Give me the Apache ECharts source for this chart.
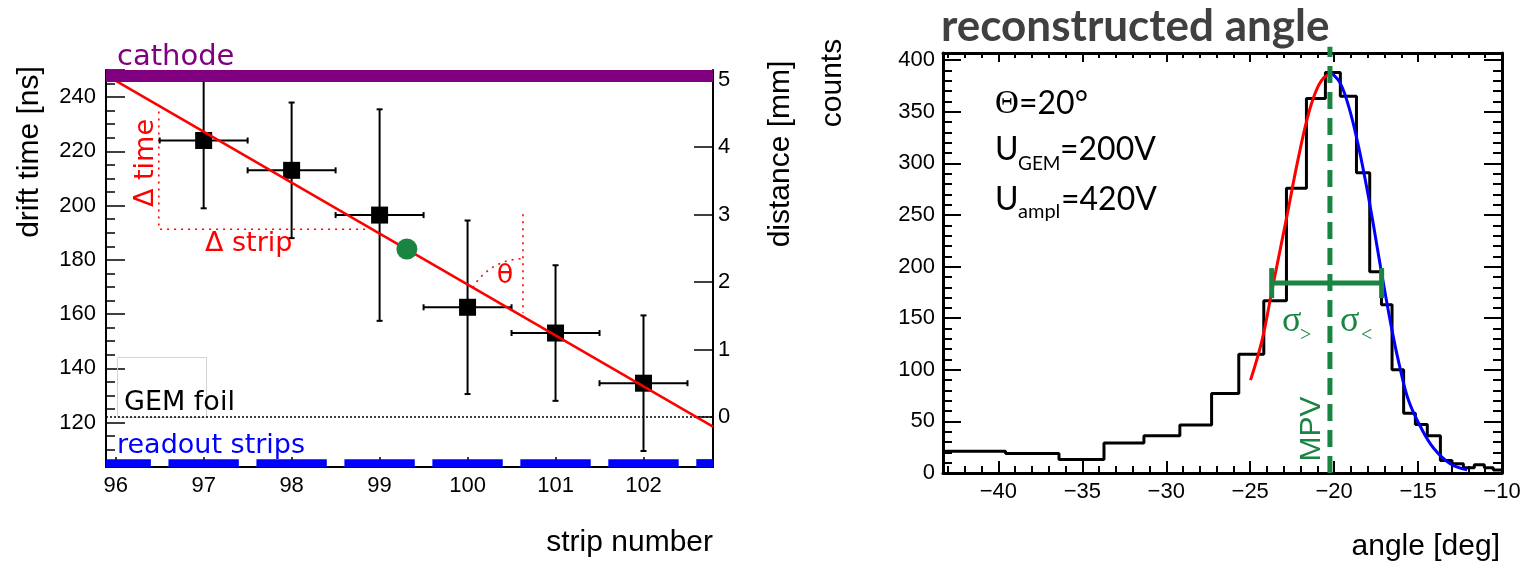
<!DOCTYPE html>
<html><head><meta charset="utf-8">
<script src="https://cdn.jsdelivr.net/npm/echarts@6/dist/echarts.min.js"></script>
<style>html,body{margin:0;padding:0;background:#fff}#c{width:1528px;height:565px}</style>
</head><body><div id="c"></div>
<script>
// ---------------- left panel: drift time vs strip ----------------
const strips = [97, 98, 99, 100, 101, 102];
const driftTime = [224, 213, 196.5, 162.5, 153, 134.5];
const driftTimeErr = [25, 25, 39, 32, 25, 25];
const stripErr = [0.5, 0.5, 0.5, 0.5, 0.5, 0.5];
const readoutStripCenters = [96, 97, 98, 99, 100, 101, 102, 103];
const readoutStripHalfWidth = 0.4;
const readoutStripTime = [103.6, 106.5];
const cathodeTime = [245.6, 250];
const gemFoilTime = 122;
const fitLineStrip = [95.89, 102.79];
const fitLineTime = [248.1, 118.5];
const midPointStrip = [99.31];
const midPointTime = [184];
const deltaStrip = [96.49, 96.49, 98.86];
const deltaTime = [234.7, 191.3, 191.3];
const thetaStrip = [100.63, 100.63];
const thetaTime = [196.8, 160.4];
const thetaArcCenter = [100.63, 159];
const stripRange = [95.89, 102.79];
const timeRange = [103.6, 250];
const distanceRange = [-0.74, 5.14];

// ---------------- right panel: reconstructed angle ----------------
const binEdges = [-43.3, -39.57, -36.39, -33.71, -31.33, -29.19, -27.30, -25.68, -24.19, -22.84,
  -21.65, -20.52, -19.63, -18.67, -17.88, -17.18, -16.55, -15.86, -15.16, -14.45, -13.67,
  -12.98, -12.30, -11.65, -11.05, -10.52, -10];
const binCounts = [21, 19, 13, 29, 36, 46.5, 77, 115, 167, 276, 363, 388, 365, 291, 195, 163,
  100, 58, 47, 36, 12, 9, 5, 8, 5, 3];
const leftFitAngle = [-24.98, -24.29, -23.69, -22.80, -22.20, -21.61, -21.11, -20.62, -20.12];
const leftFitCounts = [90, 129, 178, 250, 300, 343, 369, 383, 387];
const rightFitAngle = [-20.12, -19.63, -19.13, -18.63, -18.14, -17.64, -17.24, -16.55, -16.05,
  -15.56, -14.86, -14.07, -13.08, -12.08];
const rightFitCounts = [387, 377.5, 355, 322.6, 283.7, 238.7, 200, 138, 100, 70, 45, 24, 9, 3];
const mpvAngle = -20.25;
const mpvLineCounts = [0, 413];
const fwhmAngle = [-23.72, -17.17];
const fwhmCounts = 184;
const angleRange = [-43.3, -10];
const countRange = [0, 407];

// ---------------- chart ----------------
const LS = 'Liberation Sans', DJ = 'DejaVu Sans', LATO = 'Lato';
const GREEN = '#1a8442', RED = '#ff0000', BLUE = '#0000ff', PURPLE = '#800080';
const chart = echarts.init(document.getElementById('c'));

function txt(x, y, text, o) {
  o = o || {};
  return {type: 'text', x: x, y: y, rotation: o.rot || 0, z: 100,
    style: {text: text, fontSize: o.size || 30, fontFamily: o.font || LS,
      fontWeight: o.weight || 'normal', fill: o.color || '#000',
      align: o.align || 'left', verticalAlign: o.va || 'middle'}};
}
const minus = v => String(v).replace('-', '\u2212');

const lab = (extra) => Object.assign({fontSize: 22, fontFamily: LS, color: '#000',
  showMinLabel: false, showMaxLabel: false}, extra || {});

const option = {
  animation: false,
  grid: [
    {left: 106, right: 815, top: 70, bottom: 98},
    {left: 943, right: 26, top: 53, bottom: 92}
  ],
  xAxis: [
    {gridIndex: 0, type: 'value', min: stripRange[0], max: stripRange[1], splitNumber: 7,
      axisLine: {onZero: false, lineStyle: {color: '#000', width: 2}},
      axisTick: {inside: true, length: 10, lineStyle: {color: '#000', width: 1.5}},
      axisLabel: lab({margin: 8}), splitLine: {show: false}},
    {gridIndex: 1, type: 'value', min: angleRange[0], max: angleRange[1], splitNumber: 7,
      axisLine: {onZero: false, lineStyle: {color: '#000', width: 3}},
      axisTick: {inside: true, length: 12, lineStyle: {color: '#000', width: 2}},
      minorTick: {show: true, splitNumber: 5, length: 7, lineStyle: {color: '#000', width: 2}},
      axisLabel: lab({margin: 8, showMaxLabel: true, formatter: minus}), splitLine: {show: false}},
    {gridIndex: 1, type: 'value', position: 'top', min: angleRange[0], max: angleRange[1], splitNumber: 7,
      axisLine: {onZero: false, lineStyle: {color: '#000', width: 3}},
      axisTick: {inside: true, length: 9, lineStyle: {color: '#000', width: 2}},
      minorTick: {show: true, splitNumber: 5, length: 5, lineStyle: {color: '#000', width: 2}},
      axisLabel: {show: false}, splitLine: {show: false}}
  ],
  yAxis: [
    {gridIndex: 0, type: 'value', min: timeRange[0], max: timeRange[1], splitNumber: 7,
      axisLine: {show: true, onZero: false, lineStyle: {color: '#000', width: 2}},
      axisTick: {show: true, inside: true, length: 19, lineStyle: {color: '#000', width: 1.5}},
      minorTick: {show: true, splitNumber: 4, length: 9, lineStyle: {color: '#000', width: 1.5}},
      axisLabel: lab({margin: 10}), splitLine: {show: false}},
    {gridIndex: 0, type: 'value', position: 'right', min: distanceRange[0], max: distanceRange[1], splitNumber: 6,
      axisLine: {show: true, onZero: false, lineStyle: {color: '#000', width: 2}},
      axisTick: {show: true, inside: true, length: 19, lineStyle: {color: '#000', width: 1.5}},
      axisLabel: lab({margin: 5}), splitLine: {show: false}},
    {gridIndex: 1, type: 'value', min: countRange[0], max: countRange[1], splitNumber: 8,
      axisLine: {show: true, onZero: false, lineStyle: {color: '#000', width: 3}},
      axisTick: {show: true, inside: true, length: 18, lineStyle: {color: '#000', width: 2}},
      minorTick: {show: true, splitNumber: 5, length: 9, lineStyle: {color: '#000', width: 2}},
      axisLabel: lab({margin: 8, showMinLabel: true}), splitLine: {show: false}},
    {gridIndex: 1, type: 'value', position: 'right', min: countRange[0], max: countRange[1], splitNumber: 8,
      axisLine: {show: true, onZero: false, lineStyle: {color: '#000', width: 3}},
      axisTick: {show: true, inside: true, length: 18, lineStyle: {color: '#000', width: 2}},
      minorTick: {show: true, splitNumber: 5, length: 9, lineStyle: {color: '#000', width: 2}},
      axisLabel: {show: false}, splitLine: {show: false}}
  ],
  series: [
    // readout strips
    {type: 'custom', xAxisIndex: 0, yAxisIndex: 0, z: 3, silent: true,
      data: readoutStripCenters.map(s => [s]),
      renderItem: (params, api) => {
        const s = api.value(0);
        const a = api.coord([s - readoutStripHalfWidth, readoutStripTime[1]]);
        const b = api.coord([s + readoutStripHalfWidth, readoutStripTime[0]]);
        const cs = params.coordSys;
        const r = echarts.graphic.clipRectByRect({x: a[0], y: a[1], width: b[0] - a[0], height: b[1] - a[1]},
          {x: cs.x, y: cs.y, width: cs.width, height: cs.height});
        return r ? {type: 'rect', shape: r, style: {fill: BLUE}} : null;
      }},
    // GEM foil
    {type: 'line', xAxisIndex: 0, yAxisIndex: 0, z: 2, symbol: 'none', silent: true,
      data: [[stripRange[0], gemFoilTime], [stripRange[1], gemFoilTime]],
      lineStyle: {color: '#000', width: 1.5, type: [2, 2]}},
    // delta helper lines
    {type: 'line', xAxisIndex: 0, yAxisIndex: 0, z: 3, symbol: 'none', silent: true,
      data: deltaStrip.map((s, i) => [s, deltaTime[i]]),
      lineStyle: {color: RED, width: 1.6, type: [2, 5]}},
    {type: 'line', xAxisIndex: 0, yAxisIndex: 0, z: 3, symbol: 'none', silent: true,
      data: thetaStrip.map((s, i) => [s, thetaTime[i]]),
      lineStyle: {color: RED, width: 1.6, type: [2, 5]}},
    {type: 'custom', xAxisIndex: 0, yAxisIndex: 0, z: 3, silent: true,
      data: [thetaArcCenter],
      renderItem: (params, api) => {
        const c = api.coord([api.value(0), api.value(1)]);
        const p0 = api.coord([fitLineStrip[0], fitLineTime[0]]);
        const p1 = api.coord([fitLineStrip[1], fitLineTime[1]]);
        const ang = Math.atan2(p0[1] - p1[1], p0[0] - p1[0]);
        return {type: 'arc', shape: {cx: c[0], cy: c[1], r: 58, startAngle: ang, endAngle: -Math.PI / 2, clockwise: true},
          style: {stroke: RED, fill: null, lineWidth: 1.6, lineDash: [2, 5]}};
      }},
    // error bars
    {type: 'custom', xAxisIndex: 0, yAxisIndex: 0, z: 4, silent: true,
      data: strips.map((s, i) => [s, driftTime[i], stripErr[i], driftTimeErr[i]]),
      renderItem: (params, api) => {
        const x = api.value(0), y = api.value(1), ex = api.value(2), ey = api.value(3);
        const l = api.coord([x - ex, y]), r = api.coord([x + ex, y]);
        const t = api.coord([x, y + ey]), b = api.coord([x, y - ey]);
        const st = {stroke: '#000', lineWidth: 2};
        const cap = 3;
        const ln = (x1, y1, x2, y2) => ({type: 'line', shape: {x1, y1, x2, y2}, style: st});
        return {type: 'group', children: [
          ln(l[0], l[1], r[0], r[1]), ln(l[0], l[1] - cap, l[0], l[1] + cap), ln(r[0], r[1] - cap, r[0], r[1] + cap),
          ln(t[0], t[1], b[0], b[1]), ln(t[0] - cap, t[1], t[0] + cap, t[1]), ln(b[0] - cap, b[1], b[0] + cap, b[1])
        ]};
      }},
    // squares
    {type: 'scatter', xAxisIndex: 0, yAxisIndex: 0, z: 5, silent: true, symbol: 'rect', symbolSize: 17,
      itemStyle: {color: '#000', opacity: 1}, data: strips.map((s, i) => [s, driftTime[i]])},
    // fit line
    {type: 'line', xAxisIndex: 0, yAxisIndex: 0, z: 6, symbol: 'none', silent: true,
      data: fitLineStrip.map((s, i) => [s, fitLineTime[i]]), lineStyle: {color: RED, width: 2.5}},
    // green point
    {type: 'scatter', xAxisIndex: 0, yAxisIndex: 0, z: 7, silent: true, symbol: 'circle', symbolSize: 21,
      itemStyle: {color: GREEN, opacity: 1}, data: midPointStrip.map((s, i) => [s, midPointTime[i]])},
    // cathode bar
    {type: 'custom', xAxisIndex: 0, yAxisIndex: 0, z: 8, silent: true,
      data: [[stripRange[0], stripRange[1], cathodeTime[0], cathodeTime[1]]],
      renderItem: (params, api) => {
        const a = api.coord([api.value(0), api.value(3)]);
        const b = api.coord([api.value(1), api.value(2)]);
        return {type: 'rect', shape: {x: a[0], y: a[1], width: b[0] - a[0], height: b[1] - a[1]}, style: {fill: PURPLE}};
      }},

    // ---------- right panel ----------
    {type: 'line', xAxisIndex: 1, yAxisIndex: 2, z: 3, symbol: 'none', silent: true, step: 'end',
      data: binCounts.map((c, i) => [binEdges[i], c]).concat([[binEdges[binEdges.length - 1], binCounts[binCounts.length - 1]]]),
      lineStyle: {color: '#000', width: 3}},
    {type: 'line', xAxisIndex: 1, yAxisIndex: 2, z: 4, symbol: 'none', silent: true, smooth: 0.4,
      data: leftFitAngle.map((a, i) => [a, leftFitCounts[i]]), lineStyle: {color: RED, width: 3}},
    {type: 'line', xAxisIndex: 1, yAxisIndex: 2, z: 4, symbol: 'none', silent: true, smooth: 0.4,
      data: rightFitAngle.map((a, i) => [a, rightFitCounts[i]]), lineStyle: {color: BLUE, width: 3}},
    {type: 'line', xAxisIndex: 1, yAxisIndex: 2, z: 5, symbol: 'none', silent: true, clip: false,
      data: mpvLineCounts.map(c => [mpvAngle, c]), lineStyle: {color: GREEN, width: 5, type: [17, 9]}},
    {type: 'custom', xAxisIndex: 1, yAxisIndex: 2, z: 5, silent: true,
      data: [[fwhmAngle[0], fwhmAngle[1], fwhmCounts]],
      renderItem: (params, api) => {
        const a = api.coord([api.value(0), api.value(2)]);
        const b = api.coord([api.value(1), api.value(2)]);
        const st = {stroke: GREEN, lineWidth: 5};
        const cap = 15;
        return {type: 'group', children: [
          {type: 'line', shape: {x1: a[0], y1: a[1], x2: b[0], y2: b[1]}, style: st},
          {type: 'line', shape: {x1: a[0], y1: a[1] - cap, x2: a[0], y2: a[1] + cap}, style: st},
          {type: 'line', shape: {x1: b[0], y1: b[1] - cap, x2: b[0], y2: b[1] + cap}, style: st}
        ]};
      }}
  ],
  graphic: [
    // left panel texts
    txt(117, 57, 'cathode', {font: DJ, size: 29, color: PURPLE}),
    txt(30, 152, 'drift time [ns]', {rot: Math.PI / 2, align: 'center', size: 30}),
    txt(781, 154, 'distance [mm]', {rot: Math.PI / 2, align: 'center', size: 30}),
    txt(713, 543, 'strip number', {align: 'right', size: 30}),
    txt(146, 163, '\u0394 time', {rot: Math.PI / 2, align: 'center', font: DJ, size: 27, color: RED}),
    txt(205, 244, '\u0394 strip', {font: DJ, size: 27, color: RED}),
    txt(505, 276, '\u03b8', {font: DJ, size: 27, color: RED, align: 'center'}),
    {type: 'rect', z: 1, shape: {x: 117.5, y: 357.5, width: 89, height: 60}, style: {fill: null, stroke: '#d4d4d4', lineWidth: 1}},
    txt(124, 403, 'GEM foil', {font: DJ, size: 27}),
    txt(117, 446, 'readout strips', {font: DJ, size: 27, color: BLUE}),
    // right panel texts
    txt(941, 27, 'reconstructed angle', {font: LATO, weight: 'bold', size: 44, color: '#404040'}),
    txt(833, 83, 'counts', {rot: Math.PI / 2, align: 'center', size: 30}),
    txt(1500, 547, 'angle [deg]', {align: 'right', size: 30}),
    txt(995, 104, '\u0398', {font: 'Liberation Serif', size: 33}),
    txt(1019, 104, '=20\u00b0', {font: LATO, size: 32}),
    txt(995, 150, 'U', {font: LATO, size: 32}),
    txt(1018, 164, 'GEM', {font: LATO, size: 19}),
    txt(1060, 150, '=200V', {font: LATO, size: 32}),
    txt(995, 200, 'U', {font: LATO, size: 32}),
    txt(1018, 212, 'ampl', {font: LATO, size: 20}),
    txt(1061, 200, '=420V', {font: LATO, size: 32}),
    txt(1282, 322, '\u03c3', {font: 'Liberation Serif', size: 36, color: GREEN}),
    txt(1300, 336, '>', {font: 'Liberation Serif', size: 20, color: GREEN}),
    txt(1340, 322, '\u03c3', {font: 'Liberation Serif', size: 36, color: GREEN}),
    txt(1361, 336, '<', {font: 'Liberation Serif', size: 20, color: GREEN}),
    txt(1312, 429, 'MPV', {rot: Math.PI / 2, align: 'center', size: 30, color: GREEN})
  ]
};
chart.setOption(option);
</script>
</body></html>
